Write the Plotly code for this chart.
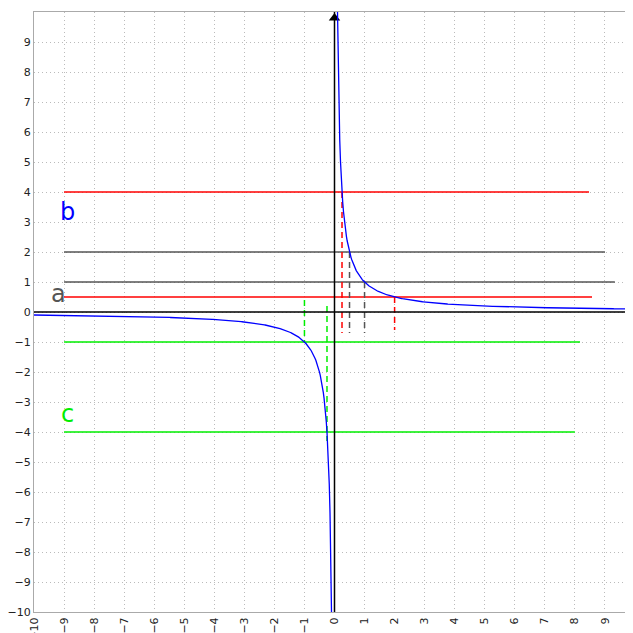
import numpy as np
import plotly.graph_objects as go

ticks = list(range(-10, 11))
x_left = np.linspace(-10, -0.1, 400)
x_right = np.linspace(0.1, 10, 400)

# horizontal lines: y, x_start, x_end, color
h_y = [4, 2, 1, 0.5, -1, -4]
h_x0 = [-9, -9, -9, -9, -9, -9]
h_x1 = [8.47, 9.0, 9.33, 8.57, 8.17, 8.0]
h_col = ["#ff0000", "#555555", "#555555", "#ff0000", "#00ee00", "#00ee00"]

# dashed verticals: x, y_top, y_bottom, color
v_x = [0.25, 0.5, 1, 2, -1, -0.25]
v_y0 = [4, 2, 1, 0.5, 0.4, 0.2]
v_y1 = [-0.7, -0.7, -0.7, -0.6, -1, -4.3]
v_col = ["#ff0000", "#555555", "#555555", "#ff0000", "#00ee00", "#00ee00"]

labels = ["b", "a", "c"]
lab_x = [-8.9, -9.2, -8.9]
lab_y = [3.35, 0.6, -3.4]
lab_col = ["#0000ff", "#555555", "#00ee00"]

fig = go.Figure()
for y, a, b, c in zip(h_y, h_x0, h_x1, h_col):
    fig.add_trace(go.Scatter(x=[a, b], y=[y, y], mode="lines", line=dict(color=c, width=1.5)))
for x, a, b, c in zip(v_x, v_y0, v_y1, v_col):
    fig.add_trace(go.Scatter(x=[x, x], y=[a, b], mode="lines", line=dict(color=c, width=1.5, dash="6px,4px")))
# axes
fig.add_trace(go.Scatter(x=[-10, 10], y=[0, 0], mode="lines", line=dict(color="black", width=1.5)))
fig.add_trace(go.Scatter(x=[0, 0], y=[-10, 10], mode="lines", line=dict(color="black", width=1.5)))
fig.add_trace(go.Scatter(x=[9.85], y=[0], mode="markers", marker=dict(symbol="triangle-right", size=10, color="black")))
fig.add_trace(go.Scatter(x=[0], y=[9.8], mode="markers", marker=dict(symbol="triangle-up", size=10, color="black")))
fig.add_trace(go.Scatter(x=x_left, y=1 / x_left, mode="lines", line=dict(color="#0000ff", width=1.3)))
fig.add_trace(go.Scatter(x=x_right, y=1 / x_right, mode="lines", line=dict(color="#0000ff", width=1.3)))
for t, x, y, c in zip(labels, lab_x, lab_y, lab_col):
    fig.add_annotation(x=x, y=y, text=t, showarrow=False, font=dict(size=24, color=c, family="DejaVu Sans"))

ax = dict(range=[-10, 10], tickvals=ticks, showgrid=True, gridcolor="#bbbbbb", griddash="1px,3px",
          gridwidth=1, zeroline=False, showline=True, linecolor="#aaaaaa", mirror=True, automargin=False,
          ticks="", tickfont=dict(size=11, color="#222222", family="DejaVu Sans"))
fig.update_layout(width=633, height=633, showlegend=False, plot_bgcolor="white", paper_bgcolor="white",
                  margin=dict(l=26, r=6, t=4, b=29),
                  xaxis=dict(ax, tickangle=-90), yaxis=dict(ax))
fig.write_html("out.html")
